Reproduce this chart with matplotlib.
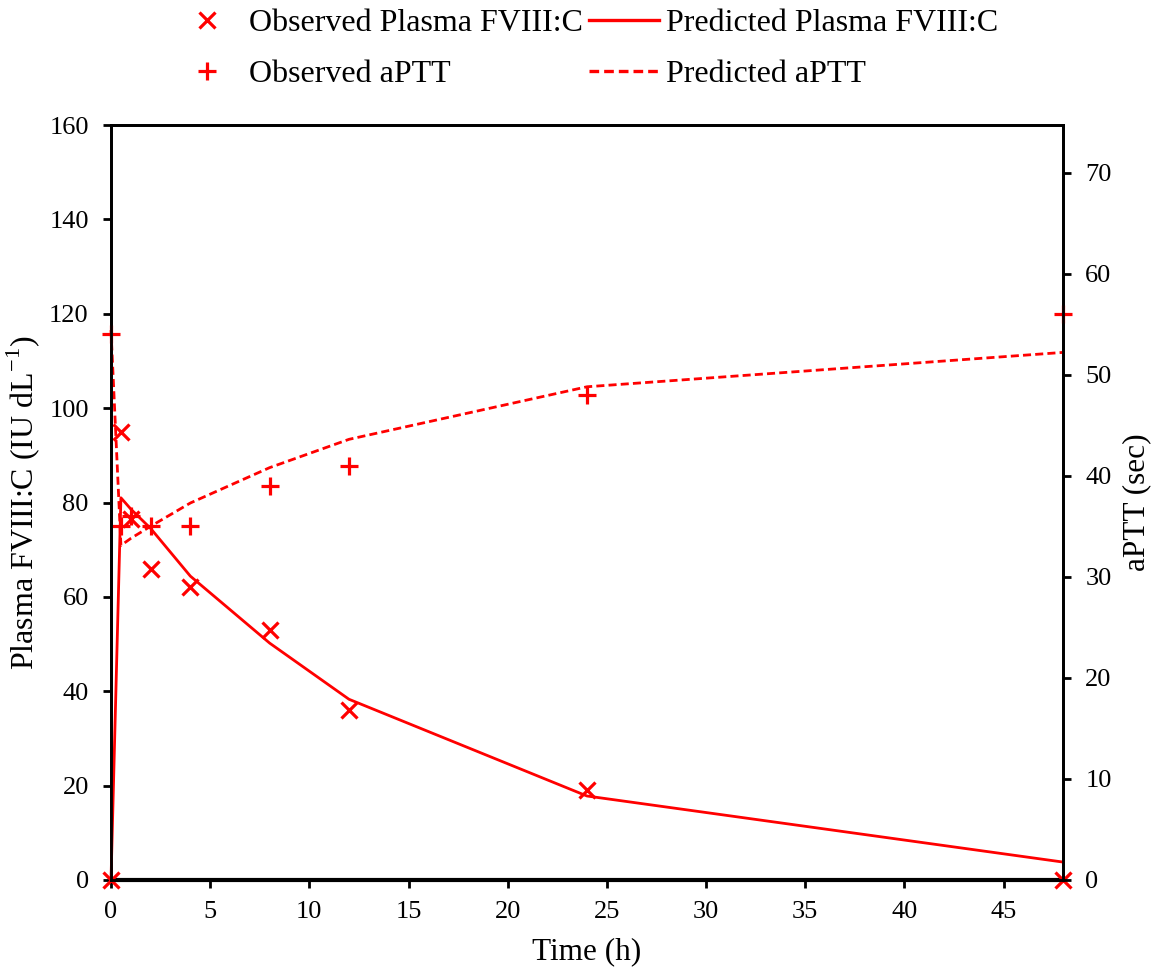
import matplotlib
matplotlib.use("Agg")
import matplotlib.pyplot as plt
from matplotlib.lines import Line2D

plt.rcParams['font.family'] = ['Liberation Serif', 'DejaVu Serif']
plt.rcParams['mathtext.fontset'] = 'custom'
plt.rcParams['mathtext.rm'] = 'Liberation Serif'

# Data
obs_time_f8 = [0, 0.5, 1, 2, 4, 8, 12, 24, 48]
obs_f8 = [0, 95, 76.5, 66, 62, 53, 36, 19, 0]
pred_time_f8 = [0, 0.5, 1, 2, 4, 8, 12, 24, 48]
pred_f8 = [0, 81, 78.6, 74.5, 64.4, 50.2, 38.3, 17.8, 3.8]
obs_time_aptt = [0, 0.5, 1, 2, 4, 8, 12, 24, 48]
obs_aptt = [54, 35, 36, 35, 35, 39, 41, 48, 56]
pred_time_aptt = [0, 0.5, 1, 2, 4, 8, 12, 24, 48]
pred_aptt = [54.4, 33.1, 33.8, 35.0, 37.3, 40.8, 43.6, 48.8, 52.2]

red = '#ff0000'
fig = plt.figure(figsize=(11.59, 9.73), dpi=100)
ax = fig.add_axes([111/1159, 1-880/973, (1063-111)/1159, (880-125)/973])
ax2 = ax.twinx()

dash = (2.9, 1.5)
ax.plot(pred_time_f8, pred_f8, '-', color=red, lw=2.0, clip_on=False, zorder=3)
ax.plot(obs_time_f8, obs_f8, 'x', color=red, ms=11.5, mew=2.3, clip_on=False, zorder=4)
ax2.plot(pred_time_aptt, pred_aptt, '--', color=red, lw=2.0, dashes=dash, clip_on=False)
ax2.plot(obs_time_aptt, obs_aptt, '+', color=red, ms=12.5, mew=2.3, clip_on=False)

ax.set_xlim(0, 48)
ax.set_ylim(0, 160)
ax2.set_ylim(0, 74.7)
ax.set_xticks(range(0, 50, 5))
ax.set_yticks(range(0, 161, 20))
ax2.set_yticks(range(0, 71, 10))

for a in (ax, ax2):
    for s in a.spines.values():
        s.set_linewidth(2)
    a.tick_params(width=2, length=6, labelsize=19, direction='out', pad=10)
ax.spines['bottom'].set_linewidth(3)
ax.tick_params(axis='x', pad=9)

ax.set_xlabel('Time (h)', fontsize=22.5, labelpad=10)
ax.set_ylabel(r'Plasma FVIII:C (IU dL$^{-1}$)', fontsize=23, labelpad=5)
ax2.set_ylabel('aPTT (sec)', fontsize=22.5, labelpad=8)

handles = [
    Line2D([], [], ls='none', marker='x', color=red, ms=11.5, mew=2.3),
    Line2D([], [], ls='none', marker='+', color=red, ms=12.5, mew=2.3),
    Line2D([], [], ls='-', color=red, lw=2.4),
    Line2D([], [], ls='--', color=red, lw=2.4, dashes=dash),
]
labels = ['Observed Plasma FVIII:C', 'Observed aPTT',
          'Predicted Plasma FVIII:C', 'Predicted aPTT']
fig.legend(handles, labels, ncol=2, loc='upper left', bbox_to_anchor=(172/1159, 1 - 9/973),
           frameon=False, fontsize=23, handlelength=2.2, handletextpad=0.2,
           columnspacing=0.2, labelspacing=0.66, borderaxespad=0.0, borderpad=0.0)

fig.savefig('out.png', dpi=100)
